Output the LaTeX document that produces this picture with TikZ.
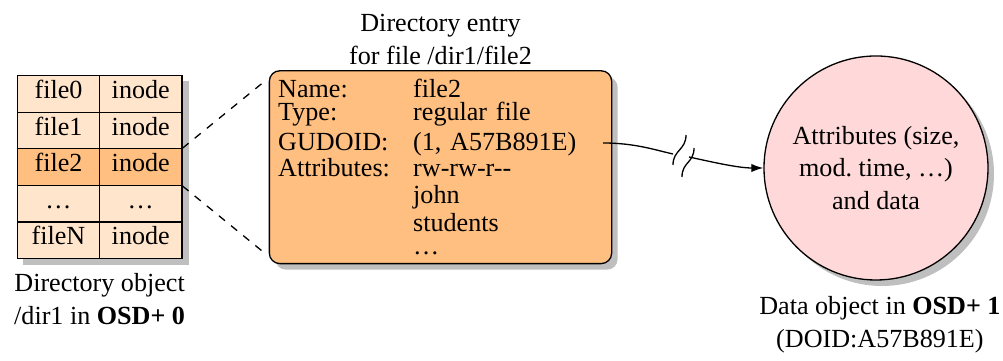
\documentclass[tikz,border=0pt]{standalone}
\usepackage{fontspec}
\setmainfont{Liberation Serif}
\usetikzlibrary{shadows,backgrounds,fit,positioning,arrows.meta}
\colorlet{lightorange}{orange!20}
\colorlet{midorange}{orange!50}
\colorlet{lightpink}{red!15}
\tikzstyle{cell}=[draw,fill=lightorange,inner sep=0pt,minimum width=31.5pt,
  minimum height=14pt,text height=7pt,text depth=3.5pt]
\tikzstyle{sel}=[fill=midorange]
\tikzstyle{lbl}=[align=center,inner sep=1pt]
\tikzstyle{entry}=[draw,fill=midorange,rounded corners=4pt,drop shadow,
  text width=124.3pt,inner xsep=3.4pt,minimum height=72.4pt,align=left,
  font=\fontsize{10}{8.6}\selectfont]
\tikzstyle{dataobj}=[draw,circle,fill=lightpink,drop shadow,minimum size=85.8pt,
  inner sep=0pt,align=center]
\newcommand{\fld}[1]{\makebox[51.7pt][l]{#1}}

\begin{document}
\begin{tikzpicture}[>={Latex[length=4.6pt,width=3.2pt]}, x=0.383pt, y=-0.383pt,
    line width=0.5pt, font=\fontsize{10}{12.6}\selectfont]
  \useasboundingbox (0,0) rectangle (1003,361);
  \begin{scope}[on grid, node distance=14pt and 31.5pt]
    \node[cell]                 (f0) at (58.5,94) {file0};
    \node[cell, right=of f0]    (i0) {inode};
    \node[cell, below=of f0]    (f1) {file1};
    \node[cell, right=of f1]    (i1) {inode};
    \node[cell, sel, below=of f1] (f2) {file2};
    \node[cell, sel, right=of f2] (i2) {inode};
    \node[cell, below=of f2]    (f3) {\dots};
    \node[cell, right=of f3]    (i3) {\dots};
    \node[cell, below=of f3]    (f4) {fileN};
    \node[cell, right=of f4]    (i4) {inode};
  \end{scope}
  \begin{scope}[on background layer]
    \node[fit=(f0)(i4), inner sep=0pt, fill=lightorange, drop shadow] (dir) {};
  \end{scope}
  \node[lbl, below=4.1pt of dir] (dirlbl) {Directory object\\/dir1 in \textbf{OSD+ 0}};

  \node[entry] (box) at (440.5,167.2) {\lineskiplimit=-10pt
    \fld{Name:}file2\\
    \fld{Type:}regular file\\[2.9pt]
    \fld{GUDOID:}(1, A57B891E)\\[1.6pt]
    \fld{Attributes:}rw-rw-r-{}-\\[1.4pt]
    \fld{}john\\[2.2pt]
    \fld{}students\\[0.3pt]
    \fld{}\dots};
  \node[lbl, above=0.7pt of box] (boxlbl) {Directory entry\\for file /dir1/file2};

  \node[dataobj] (data) at (876,168) {Attributes (size,\\mod.\ time, \dots)\\and data};
  \node[lbl, below=4.7pt of data, xshift=1.5pt] (datalbl)
    {Data object in \textbf{OSD+ 1}\\(DOID:A57B891E)};

  \draw[dashed, shorten >=3pt] (i2.north east) -- ([yshift=-3pt]box.north west);
  \draw[dashed, shorten >=3pt] (i2.south east) -- ([yshift=3pt]box.south west);

  % arrow with a break in it
  \coordinate (gud) at (603,143);
  \coordinate (cut1) at (673,154);
  \coordinate (cut2) at (689,157);
  \draw (gud) .. controls (635,143) and (655,150) .. (cut1);
  \draw[->] (cut2) .. controls (712,162) and (738,168) .. (data.west);
  \draw (686,135) .. controls (686,150) and (673,150) .. (673,165);
  \draw (694,148) .. controls (694,163) and (682,162) .. (682,177);
\end{tikzpicture}
\end{document}
